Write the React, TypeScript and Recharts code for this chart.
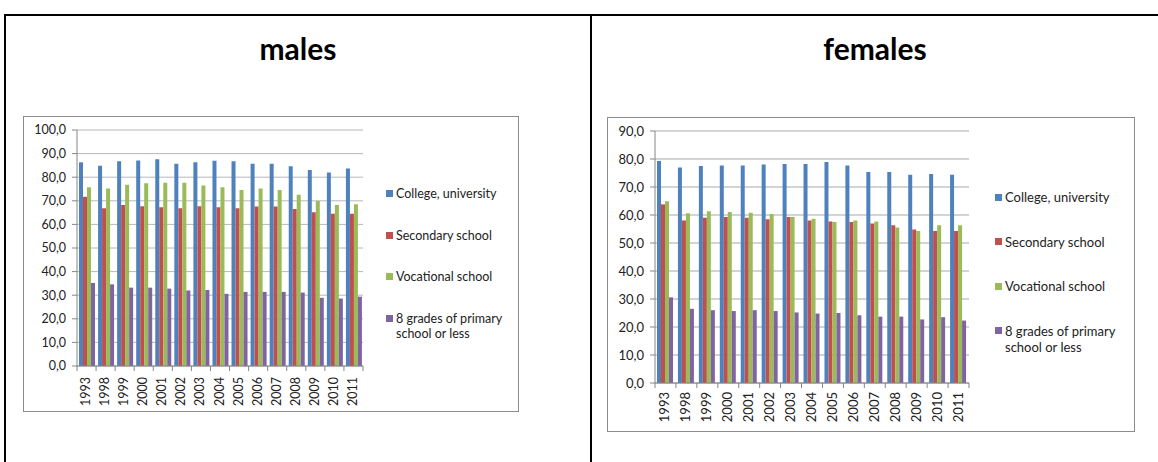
import { Bar, BarChart, CartesianGrid, Legend, XAxis, YAxis } from 'recharts';

const years = ['1993', '1998', '1999', '2000', '2001', '2002', '2003', '2004', '2005', '2006', '2007', '2008', '2009', '2010', '2011'];
const seriesNames = ['College, university', 'Secondary school', 'Vocational school', '8 grades of primary school or less'];
const seriesColors = ['#4F81BD', '#C0504D', '#9BBB59', '#8064A2'];

const malesCollege = [86.3, 84.9, 86.8, 87.1, 87.6, 85.7, 86.3, 87.0, 86.8, 85.7, 85.7, 84.6, 83.0, 82.0, 83.7];
const malesSecondary = [71.7, 66.8, 68.2, 67.7, 67.3, 66.8, 67.7, 67.3, 66.8, 67.6, 67.6, 66.5, 65.1, 64.5, 64.5];
const malesVocational = [75.7, 75.2, 76.8, 77.4, 77.7, 77.7, 76.5, 75.7, 74.6, 75.2, 74.6, 72.6, 69.9, 68.2, 68.5];
const malesPrimary = [35.2, 34.6, 33.2, 33.2, 32.8, 32.0, 32.2, 30.6, 31.4, 31.4, 31.4, 31.1, 28.9, 28.6, 29.4];

const femalesCollege = [79.3, 77.0, 77.5, 77.7, 77.7, 78.0, 78.2, 78.2, 78.9, 77.7, 75.4, 75.4, 74.4, 74.6, 74.4];
const femalesSecondary = [63.8, 58.0, 59.0, 59.3, 59.0, 58.5, 59.3, 58.0, 57.7, 57.5, 57.0, 56.3, 54.8, 54.3, 54.3];
const femalesVocational = [64.9, 60.6, 61.3, 61.1, 60.8, 60.4, 59.3, 58.7, 57.5, 58.0, 57.7, 55.5, 54.3, 56.3, 56.3];
const femalesPrimary = [30.6, 26.5, 26.0, 25.7, 26.0, 25.7, 25.2, 24.8, 25.0, 24.2, 23.7, 23.7, 22.7, 23.5, 22.3];

const malesTicks = [0, 10, 20, 30, 40, 50, 60, 70, 80, 90, 100];
const femalesTicks = [0, 10, 20, 30, 40, 50, 60, 70, 80, 90];

const FONT = 'Lato, "Open Sans", sans-serif';

const buildRows = (series: number[][]) =>
    years.map((year, i) => ({
        year,
        s0: series[0][i],
        s1: series[1][i],
        s2: series[2][i],
        s3: series[3][i],
    }));

const fmt = (v: number) => v.toFixed(1).replace('.', ',');

const YearTick = (props: any) => {
    const { x, y, payload, index, fontSize, gap, band } = props;
    const half = band / 2;
    return (
        <g>
            <line x1={x - half} x2={x - half} y1={y} y2={y + 5} stroke="#868686" />
            {index === years.length - 1 && <line x1={x + half} x2={x + half} y1={y} y2={y + 5} stroke="#868686" />}
            <text
                transform={`translate(${x - 1},${y + gap}) rotate(-90)`}
                textAnchor="end"
                dominantBaseline="central"
                fontSize={fontSize}
                fontFamily={FONT}
                fill="#222"
            >
                {payload.value}
            </text>
        </g>
    );
};

const EduLegend = ({ fontSize, spacing, textWidth }: { fontSize: number; spacing: number; textWidth: number }) => (
    <div style={{ fontFamily: FONT, fontSize, color: '#222' }}>
        {seriesNames.map((name, i) => (
            <div key={name} style={{ display: 'flex', alignItems: 'flex-start', height: spacing, lineHeight: `${fontSize + 3}px` }}>
                <span
                    style={{
                        width: 7,
                        height: 7,
                        background: seriesColors[i],
                        marginTop: (fontSize + 3 - 7) / 2,
                        marginRight: 3,
                        flex: 'none',
                    }}
                />
                <span style={{ width: textWidth }}>{name}</span>
            </div>
        ))}
    </div>
);

function EduChart({
    series,
    ticks,
    max,
    width,
    height,
    margin,
    yWidth,
    xHeight,
    fontSize,
    labelGap,
    legendPos,
    legendSpacing,
    legendFont,
    legendTextWidth,
    grid,
}: {
    series: number[][];
    ticks: number[];
    max: number;
    width: number;
    height: number;
    margin: { top: number; right: number; left: number; bottom: number };
    yWidth: number;
    xHeight: number;
    fontSize: number;
    labelGap: number;
    legendPos: { left: number; top: number };
    legendSpacing: number;
    legendFont: number;
    legendTextWidth: number;
    grid: string;
}) {
    const rows = buildRows(series);
    const band = (width - margin.left - margin.right - yWidth) / years.length;
    return (
        <BarChart width={width} height={height} data={rows} margin={margin} barGap={0} barSize={4}>
            <CartesianGrid vertical={false} stroke={grid} />
            <XAxis
                dataKey="year"
                height={xHeight}
                tickSize={0}
                tickMargin={0}
                tickLine={false}
                stroke="#868686"
                interval={0}
                tick={<YearTick fontSize={fontSize} gap={labelGap} band={band} />}
            />
            <YAxis
                width={yWidth}
                domain={[0, max]}
                ticks={ticks}
                interval={0}
                tickFormatter={fmt}
                tickSize={5}
                tickMargin={6}
                stroke="#868686"
                tick={{ fontSize, fontFamily: FONT, fill: '#222' }}
            />
            <Legend
                layout="vertical"
                align="center"
                verticalAlign="middle"
                wrapperStyle={{ left: legendPos.left, top: legendPos.top, width: 170 }}
                content={() => <EduLegend fontSize={legendFont} spacing={legendSpacing} textWidth={legendTextWidth} />}
            />
            {seriesNames.map((name, i) => (
                <Bar key={name} dataKey={`s${i}`} name={name} fill={seriesColors[i]} isAnimationActive={false} />
            ))}
        </BarChart>
    );
}

export default function App() {
    return (
        <div style={{ position: 'absolute', left: 0, top: 0, width: 1158, height: 462, background: '#fff', overflow: 'hidden' }}>
            <div style={{ position: 'absolute', left: 4, top: 14, width: 1154, height: 2, background: '#000' }} />
            <div style={{ position: 'absolute', left: 4, top: 14, width: 2, height: 448, background: '#000' }} />
            <div style={{ position: 'absolute', left: 590, top: 14, width: 2, height: 448, background: '#000' }} />

            <div style={{ position: 'absolute', left: 6, top: 30, width: 584, textAlign: 'center', fontFamily: FONT, fontWeight: 700, fontSize: 30, lineHeight: '36px' }}>
                males
            </div>
            <div style={{ position: 'absolute', left: 592, top: 30, width: 566, textAlign: 'center', fontFamily: FONT, fontWeight: 700, fontSize: 30, lineHeight: '36px' }}>
                females
            </div>

            <div style={{ position: 'absolute', left: 23, top: 116, width: 496, height: 296, border: '1px solid #8c8c8c', boxSizing: 'border-box' }}>
                <EduChart
                    series={[malesCollege, malesSecondary, malesVocational, malesPrimary]}
                    ticks={malesTicks}
                    max={100}
                    width={494}
                    height={294}
                    margin={{ top: 13, right: 155, left: 0, bottom: 0 }}
                    yWidth={53}
                    xHeight={45}
                    fontSize={12.5}
                    labelGap={11}
                    legendPos={{ left: 362, top: 69 }}
                    legendSpacing={41.5}
                    legendFont={12.5}
                    legendTextWidth={118}
                    grid="#b8b8b8"
                />
            </div>

            <div style={{ position: 'absolute', left: 607, top: 117, width: 528, height: 315, border: '1px solid #8c8c8c', boxSizing: 'border-box' }}>
                <EduChart
                    series={[femalesCollege, femalesSecondary, femalesVocational, femalesPrimary]}
                    ticks={femalesTicks}
                    max={90}
                    width={526}
                    height={313}
                    margin={{ top: 13, right: 165, left: 0, bottom: 0 }}
                    yWidth={47}
                    xHeight={48}
                    fontSize={13}
                    labelGap={9}
                    legendPos={{ left: 387, top: 71 }}
                    legendSpacing={44.5}
                    legendFont={13}
                    legendTextWidth={124}
                    grid="#a8a8a8"
                />
            </div>
        </div>
    );
}
